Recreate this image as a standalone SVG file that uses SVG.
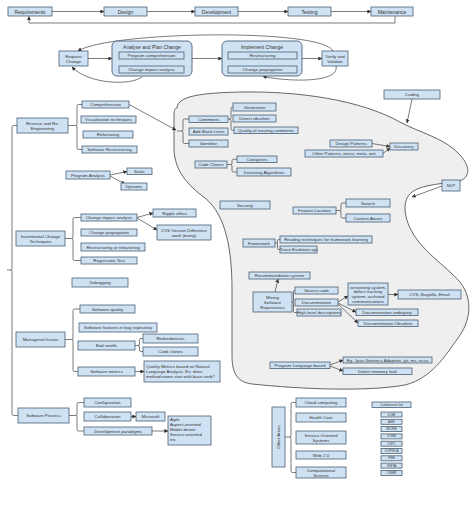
<svg xmlns="http://www.w3.org/2000/svg" width="474" height="527" viewBox="0 0 474 527">
<style>
.b{fill:#cfe2f3;stroke:#4a6076;stroke-width:0.8}
.g{fill:#cfe2f3;stroke:#4a6076;stroke-width:0.9}
.t{font-family:"Liberation Sans",Arial,sans-serif;font-size:4.4px;fill:#333;text-anchor:middle;dominant-baseline:central}
.tl{font-family:"Liberation Sans",Arial,sans-serif;font-size:4.4px;fill:#333;text-anchor:start;dominant-baseline:central}
.tb{font-size:5px}
.ts{font-size:3.4px}
.c{fill:none;stroke:#444;stroke-width:0.7}
.a{marker-end:url(#ah)}
.blob{fill:#efefef;stroke:#555;stroke-width:0.9}
</style>
<defs>
<marker id="ah" viewBox="0 0 6 6" refX="5.5" refY="3" markerWidth="4" markerHeight="4" orient="auto" markerUnits="userSpaceOnUse"><path d="M0,0 L6,3 L0,6 z" fill="#333"/></marker>
</defs>
<rect width="474" height="527" fill="#fff"/>

<path id="blob" class="blob" d="M177,108 C178,96 200,93 240,92 C300,91 360,100 400,122 C420,133 445,138 460,155 C472,168 470,180 455,182 C435,184 420,186 412,192 C402,200 404,215 410,228 C420,250 445,265 460,282 C474,300 470,322 458,338 C445,356 432,378 405,385 C365,392 300,389 252,384 C236,382 232,372 232,355 L232,290 C232,250 226,215 205,198 C186,184 175,170 174,150 L174,115 C174,110 175,108 177,108 Z"/>

<g id="connectors">
<path class="c a" d="M52,11.5 H104"/>
<path class="c a" d="M147,11.5 H195"/>
<path class="c a" d="M238,11.5 H288"/>
<path class="c a" d="M331,11.5 H371"/>
<path class="c a" d="M395,16 V23 H29 V16.5"/>
<path class="c a" d="M88,58.5 H112"/>
<path class="c a" d="M192,58.5 H222"/>
<path class="c a" d="M302,58.5 H322"/>
<path class="c a" d="M333,51 C322,28 110,31 78,51"/>
<path class="c a" d="M142,77 C130,86 88,84 72,67"/>
<path class="c a" d="M336,66 C340,83 290,82 263,76.5"/>
<path class="c a" d="M129,104.5 L176,130"/>
<path class="c a" d="M110,175 L127,171.5"/>
<path class="c a" d="M110,176 L125,184"/>
<path class="c a" d="M137,217.5 L153,213"/>
<path class="c a" d="M137,218 L157,230"/>
<path class="c a" d="M135,371.5 H144"/>
<path class="c a" d="M131,416.5 H136"/>
<path class="c a" d="M152,431 H168"/>
<path class="c a" d="M412,99 L407,123"/>
<path class="c a" d="M442,186 L412,197"/>
<path class="c a" d="M372,143.5 L390,146.5"/>
<path class="c a" d="M383,153.5 L390,148"/>
<path class="c a" d="M275,292 L278,279"/>
<path class="c a" d="M338,302 L348,296"/>
<path class="c a" d="M338,303 L356,312"/>
<path class="c a" d="M338,304 L358,323"/>
<path class="c a" d="M388,294.5 H398"/>
<path class="c a" d="M330,365 L343,360"/>
<path class="c a" d="M330,366 L343,371"/>
<path class="c" d="M82,104.5 H78.5 Q77,104.5 77,106 V124 Q77,125.5 75.5,125.5 H68 M75.5,125.5 Q77,125.5 77,127 V148 Q77,149.5 78.5,149.5 H82"/>
<path class="c" d="M17,125.5 H13.5 Q12,125.5 12,127 V268.5 Q12,270 10.5,270 H7 M10.5,270 Q12,270 12,271.5 V414 Q12,415.5 13.5,415.5 H18"/>
<path class="c" d="M81,217.5 H74.5 Q73,217.5 73,219 V237 Q73,238.5 71.5,238.5 H65 M71.5,238.5 Q73,238.5 73,240 V259 Q73,260.5 74.5,260.5 H81"/>
<path class="c" d="M80,309 H74.5 Q73,309 73,310.5 V338 Q73,339.5 71.5,339.5 H65 M71.5,339.5 Q73,339.5 73,341 V370 Q73,371.5 74.5,371.5 H78"/>
<path class="c" d="M84,402.5 H78.5 Q77,402.5 77,404 V414 Q77,415.5 75.5,415.5 H69 M75.5,415.5 Q77,415.5 77,417 V429.5 Q77,431 78.5,431 H84"/>
<path class="c" d="M143,338.5 H141 Q139.5,338.5 139.5,340 V344 Q139.5,345.5 138,345.5 H135 M138,345.5 Q139.5,345.5 139.5,347 V350 Q139.5,351.5 141,351.5 H143"/>
<path class="c" d="M189,119 H184.5 Q183,119 183,120.5 V129.5 Q183,131 181.5,131 H177 M181.5,131 Q183,131 183,132.5 V142 Q183,143.5 184.5,143.5 H189"/>
<path class="c" d="M233,107 H232.5 Q231,107 231,108.5 V117.5 Q231,119 229.5,119 H228 M229.5,119 Q231,119 231,120.5 V128.75 Q231,130.25 232.5,130.25 H234"/>
<path class="c" d="M237,159.25 H233.5 Q232,159.25 232,160.75 V163 Q232,164.5 230.5,164.5 H227 M230.5,164.5 Q232,164.5 232,166 V170.5 Q232,172 233.5,172 H237"/>
<path class="c" d="M346,203 H342.5 Q341,203 341,204.5 V209 Q341,210.5 339.5,210.5 H336 M339.5,210.5 Q341,210.5 341,212 V216.5 Q341,218 342.5,218 H346"/>
<path class="c" d="M280,239.5 H278.5 Q277.5,239.5 277.5,240.5 V242 Q277.5,243 276.5,243 H275 M276.5,243 Q277.5,243 277.5,244 V248.5 Q277.5,249.5 278.5,249.5 H280"/>
<path class="c" d="M295,290.5 H294.5 Q293.5,290.5 293.5,291.5 V301 Q293.5,302 292.5,302 H292 M292.5,302 Q293.5,302 293.5,303 V311.5 Q293.5,312.5 294.5,312.5 H297"/>
<path class="c" d="M296,402.5 H292.5 Q291,402.5 291,404 V435.5 Q291,437 289.5,437 H285 M289.5,437 Q291,437 291,438.5 V471 Q291,472.5 292.5,472.5 H296"/>
</g>

<g id="n-req"><rect class="b" x="8" y="7" width="44" height="9"/><text class="t tb" x="30" y="11.5">Requirements</text></g>
<g id="n-design"><rect class="b" x="104" y="7" width="43" height="9"/><text class="t tb" x="125.5" y="11.5">Design</text></g>
<g id="n-dev"><rect class="b" x="195" y="7" width="43" height="9"/><text class="t tb" x="216.5" y="11.5">Development</text></g>
<g id="n-test"><rect class="b" x="288" y="7" width="43" height="9"/><text class="t tb" x="309.5" y="11.5">Testing</text></g>
<g id="n-maint"><rect class="b" x="371" y="7" width="42" height="9"/><text class="t tb" x="392" y="11.5">Maintenance</text></g>

<g id="n-request"><rect class="b" x="59" y="51" width="29" height="15"/><text class="t" x="73.5" y="56">Request</text><text class="t" x="73.5" y="61">Change</text></g>
<g id="g-analyse"><rect class="g" x="112" y="41" width="80" height="35" rx="5"/><text class="t tb" x="152" y="46.5">Analyse and Plan Change</text>
<g id="n-progcomp"><rect class="b" x="119" y="52" width="65" height="7"/><text class="t" x="151.5" y="55.5">Program comprehension</text></g>
<g id="n-cia1"><rect class="b" x="119" y="66" width="65" height="7"/><text class="t" x="151.5" y="69.5">Change impact analysis</text></g></g>
<g id="g-implement"><rect class="g" x="222" y="41" width="80" height="35" rx="5"/><text class="t tb" x="262" y="46.5">Implement Change</text>
<g id="n-restr1"><rect class="b" x="228" y="52" width="69" height="7"/><text class="t" x="262.5" y="55.5">Restructuring</text></g>
<g id="n-cprop1"><rect class="b" x="228" y="66" width="69" height="7"/><text class="t" x="262.5" y="69.5">Change propagation</text></g></g>
<g id="n-verify"><rect class="b" x="322" y="51" width="26" height="15"/><text class="t" x="335" y="56">Verify and</text><text class="t" x="335" y="61">Validate</text></g>

<g id="n-reverse"><rect class="b" x="17" y="118" width="51" height="15"/><text class="t" x="42.5" y="123">Reverse and Re-</text><text class="t" x="42.5" y="128.5">Engineering</text></g>
<g id="n-comprehension"><rect class="b" x="82" y="101" width="47" height="7"/><text class="t" x="105.5" y="104.5">Comprehension</text></g>
<g id="n-vis"><rect class="b" x="81" y="116" width="55" height="7"/><text class="t" x="108.5" y="119.5">Visualization techniques</text></g>
<g id="n-refactoring"><rect class="b" x="83" y="131" width="50" height="7"/><text class="t" x="108" y="134.5">Refactoring</text></g>
<g id="n-swrestr"><rect class="b" x="82" y="146" width="55" height="7"/><text class="t" x="109.5" y="149.5">Software Restructuring</text></g>
<g id="n-proganal"><rect class="b" x="66" y="171" width="44" height="8"/><text class="t" x="88" y="175">Program Analysis</text></g>
<g id="n-static"><rect class="b" x="127" y="168" width="25" height="6.5"/><text class="t" x="139.5" y="171.25">Static</text></g>
<g id="n-dynamic"><rect class="b" x="121" y="183" width="26" height="7"/><text class="t" x="134" y="186.5">Dynamic</text></g>

<g id="n-incr"><rect class="b" x="16" y="231" width="49" height="15"/><text class="t" x="40.5" y="236">Incremental Change</text><text class="t" x="40.5" y="241.5">Techniques</text></g>
<g id="n-cia2"><rect class="b" x="81" y="214" width="56" height="7"/><text class="t" x="109" y="217.5">Change impact analysis</text></g>
<g id="n-cprop2"><rect class="b" x="81" y="229" width="56" height="7"/><text class="t" x="109" y="232.5">Change propagation</text></g>
<g id="n-restrref"><rect class="b" x="81" y="243" width="64" height="8"/><text class="t" x="113" y="247">Restructuring or refactoring</text></g>
<g id="n-regr"><rect class="b" x="81" y="257" width="56" height="7"/><text class="t" x="109" y="260.5">Regression Test</text></g>
<g id="n-debug"><rect class="b" x="72" y="278" width="56" height="9"/><text class="t" x="100" y="282.5">Debugging</text></g>
<g id="n-ripple"><rect class="b" x="153" y="209" width="43" height="8"/><text class="t" x="174.5" y="213">Ripple effect</text></g>
<g id="n-cvsver"><rect class="b" x="157" y="225" width="54" height="15"/><text class="t" x="184" y="230">CVS Version Difference</text><text class="t" x="184" y="235.5">work (many)</text></g>

<g id="n-manag"><rect class="b" x="16" y="332" width="49" height="15"/><text class="t" x="40.5" y="339.5">Managerial Issues</text></g>
<g id="n-swq"><rect class="b" x="80" y="305" width="55" height="8"/><text class="t" x="107.5" y="309">Software quality</text></g>
<g id="n-swfeat"><rect class="b" x="79" y="323" width="78" height="9"/><text class="t" x="118" y="327.5">Software features in bug repository</text></g>
<g id="n-badsmells"><rect class="b" x="78" y="341" width="57" height="9"/><text class="t" x="106.5" y="345.5">Bad smells</text></g>
<g id="n-redund"><rect class="b" x="143" y="334" width="55" height="9"/><text class="t" x="170.5" y="338.5">Redundancies</text></g>
<g id="n-codeclones"><rect class="b" x="143" y="347" width="55" height="9"/><text class="t" x="170.5" y="351.5">Code clones</text></g>
<g id="n-swmetrics"><rect class="b" x="78" y="367" width="57" height="9"/><text class="t" x="106.5" y="371.5">Software metrics</text></g>
<g id="n-qmetrics"><rect class="b" x="144" y="361" width="76" height="21"/><text class="tl" x="146" y="366">Quality Metrics based on Natural</text><text class="tl" x="146" y="371">Language Analysis. Ex: does</text><text class="tl" x="146" y="376">method name start with base verb?</text></g>

<g id="n-swproc"><rect class="b" x="18" y="408" width="51" height="15"/><text class="t" x="43.5" y="415.5">Software Process</text></g>
<g id="n-config"><rect class="b" x="84" y="398" width="47" height="9"/><text class="t" x="107.5" y="402.5">Configuration</text></g>
<g id="n-collab"><rect class="b" x="84" y="412" width="47" height="9"/><text class="t" x="107.5" y="416.5">Collaboration</text></g>
<g id="n-ms"><rect class="b" x="136" y="412" width="29" height="9"/><text class="t" x="150.5" y="416.5">Microsoft</text></g>
<g id="n-devpar"><rect class="b" x="84" y="427" width="68" height="8"/><text class="t" x="118" y="431">Development paradigms</text></g>
<g id="n-agile"><rect class="b" x="168" y="416" width="43" height="29"/><text class="tl" x="170" y="419.5">Agile</text><text class="tl" x="170" y="424.5">Aspect-oriented</text><text class="tl" x="170" y="429.5">Model-driven</text><text class="tl" x="170" y="434.5">Service-oriented</text><text class="tl" x="170" y="439.5">etc.</text></g>

<g id="n-comments"><rect class="b" x="189" y="116" width="39" height="6.5"/><text class="t" x="208.5" y="119.25">Comments</text></g>
<g id="n-blank"><rect class="b" x="189" y="128" width="39" height="7"/><text class="t" x="208.5" y="131.5">Add Blank Lines</text></g>
<g id="n-ident"><rect class="b" x="189" y="140" width="39" height="7"/><text class="t" x="208.5" y="143.5">Identifier</text></g>
<g id="n-gen"><rect class="b" x="233" y="103" width="43" height="8"/><text class="t" x="254.5" y="107">Generation</text></g>
<g id="n-obs"><rect class="b" x="233" y="115" width="43" height="7"/><text class="t" x="254.5" y="118.5">Detect obsolete</text></g>
<g id="n-qual"><rect class="b" x="234" y="127" width="64" height="6.5"/><text class="t" x="266" y="130.25">Quality of existing comments</text></g>
<g id="n-cc"><rect class="b" x="195" y="161" width="32" height="7"/><text class="t" x="211" y="164.5">Code Clones</text></g>
<g id="n-cat"><rect class="b" x="237" y="156" width="40" height="6.5"/><text class="t" x="257" y="159.25">Categories</text></g>
<g id="n-detalg"><rect class="b" x="237" y="168" width="54" height="8"/><text class="t" x="264" y="172">Detecting Algorithms</text></g>
<g id="n-dp"><rect class="b" x="330" y="140" width="42" height="7"/><text class="t" x="351" y="143.5">Design Patterns</text></g>
<g id="n-otherp"><rect class="b" x="305" y="150" width="78" height="7"/><text class="t" x="344" y="153.5">Other Patterns, micro, meta, anti</text></g>
<g id="n-disc"><rect class="b" x="390" y="143" width="28" height="7"/><text class="t" x="404" y="146.5">Discovery</text></g>
<g id="n-coding"><rect class="b" x="384" y="90" width="56" height="9"/><text class="t" x="412" y="94.5">Coding</text></g>
<g id="n-nlp"><rect class="b" x="442" y="180" width="18" height="11"/><text class="t" x="451" y="185.5">NLP</text></g>
<g id="n-sec"><rect class="b" x="220" y="201" width="50" height="8"/><text class="t" x="245" y="205">Security</text></g>
<g id="n-featloc"><rect class="b" x="293" y="207" width="43" height="7"/><text class="t" x="314.5" y="210.5">Feature Location</text></g>
<g id="n-search"><rect class="b" x="346" y="199" width="44" height="8"/><text class="t" x="368" y="203">Search</text></g>
<g id="n-ctx"><rect class="b" x="346" y="214" width="44" height="8"/><text class="t" x="368" y="218">Context-Aware</text></g>
<g id="n-fw"><rect class="b" x="243" y="239" width="32" height="8"/><text class="t" x="259" y="243">Framework</text></g>
<g id="n-reading"><rect class="b" x="280" y="236" width="92" height="7"/><text class="t" x="326" y="239.5">Reading techniques for framework learning</text></g>
<g id="n-trace"><rect class="b" x="280" y="246" width="37" height="7"/><text class="t" x="298.5" y="249.5">Trace Evolution api</text></g>
<g id="n-recsys"><rect class="b" x="249" y="272" width="61" height="7"/><text class="t" x="279.5" y="275.5">Recommendation system</text></g>
<g id="n-msr"><rect class="b" x="253" y="292" width="39" height="20"/><text class="t" x="272.5" y="297">Mining</text><text class="t" x="272.5" y="302">Software</text><text class="t" x="272.5" y="307">Repositories</text></g>
<g id="n-src"><rect class="b" x="295" y="287" width="43" height="7"/><text class="t" x="316.5" y="290.5">Source code</text></g>
<g id="n-doc"><rect class="b" x="295" y="299" width="43" height="7"/><text class="t" x="316.5" y="302.5">Documentation</text></g>
<g id="n-hld"><rect class="b" x="297" y="309" width="44" height="7"/><text class="t" x="319" y="312.5">High-level descriptions</text></g>
<g id="n-vers"><rect class="b" x="348" y="283" width="40" height="22"/><text class="t" x="368" y="287">versioning system,</text><text class="t" x="368" y="291.8">defect tracking</text><text class="t" x="368" y="296.6">system, archived</text><text class="t" x="368" y="301.4">communications</text></g>
<g id="n-cvs"><rect class="b" x="398" y="290" width="63" height="9"/><text class="t" x="429.5" y="294.5">CVS, Bugzilla, Email</text></g>
<g id="n-docamb"><rect class="b" x="356" y="309" width="62" height="6.5"/><text class="t" x="387" y="312.25">Documentation ambiguity</text></g>
<g id="n-docobs"><rect class="b" x="358" y="320" width="60" height="6.5"/><text class="t" x="388" y="323.25">Documentation Obsolete</text></g>
<g id="n-plb"><rect class="b" x="270" y="362" width="60" height="6.5"/><text class="t" x="300" y="365.25">Program Language based</text></g>
<g id="n-eg"><rect class="b" x="343" y="357" width="89" height="6"/><text class="t" x="387.5" y="360">Eg. Java Generics Adoption, git, ms, ncsu</text></g>
<g id="n-leak"><rect class="b" x="343" y="368" width="69" height="6.5"/><text class="t" x="377.5" y="371.25">Detect memory leak</text></g>

<g id="n-other"><rect class="b" x="272" y="407" width="13" height="60"/><text class="t" x="278.5" y="437" transform="rotate(-90 278.5 437)">Other Areas</text></g>
<g id="n-cloud"><rect class="b" x="296" y="398" width="50" height="9"/><text class="t" x="321" y="402.5">Cloud computing</text></g>
<g id="n-health"><rect class="b" x="296" y="413" width="50" height="9"/><text class="t" x="321" y="417.5">Health Care</text></g>
<g id="n-soa"><rect class="b" x="296" y="431" width="50" height="13"/><text class="t" x="321" y="435">Service-Oriented</text><text class="t" x="321" y="440">Systems</text></g>
<g id="n-web"><rect class="b" x="296" y="451" width="50" height="8"/><text class="t" x="321" y="455">Web 2.0</text></g>
<g id="n-comp"><rect class="b" x="296" y="467" width="50" height="11"/><text class="t" x="321" y="470">Computational</text><text class="t" x="321" y="475">Science</text></g>

<g id="n-conf"><rect class="b" x="372" y="402" width="39" height="5.5"/><text class="t ts" x="391.5" y="404.75">Conference list</text></g>
<g id="n-icse"><rect class="b" x="381" y="412" width="21" height="5"/><text class="t ts" x="391.5" y="414.5">ICSE</text></g>
<g id="n-ase"><rect class="b" x="381" y="419.3" width="21" height="5"/><text class="t ts" x="391.5" y="421.8">ASE</text></g>
<g id="n-wcre"><rect class="b" x="381" y="426.6" width="21" height="5"/><text class="t ts" x="391.5" y="429.1">WCRE</text></g>
<g id="n-icsm"><rect class="b" x="381" y="433.9" width="21" height="5"/><text class="t ts" x="391.5" y="436.4">ICSM</text></g>
<g id="n-icpc"><rect class="b" x="381" y="441.2" width="21" height="5"/><text class="t ts" x="391.5" y="443.7">ICPC</text></g>
<g id="n-oopsla"><rect class="b" x="381" y="448.5" width="21" height="5"/><text class="t ts" x="391.5" y="451">OOPSLA</text></g>
<g id="n-fse"><rect class="b" x="381" y="455.8" width="21" height="5"/><text class="t ts" x="391.5" y="458.3">FSE</text></g>
<g id="n-issta"><rect class="b" x="381" y="463.1" width="21" height="5"/><text class="t ts" x="391.5" y="465.6">ISSTA</text></g>
<g id="n-csmr"><rect class="b" x="381" y="470.4" width="21" height="5"/><text class="t ts" x="391.5" y="472.9">CSMR</text></g>
</svg>
